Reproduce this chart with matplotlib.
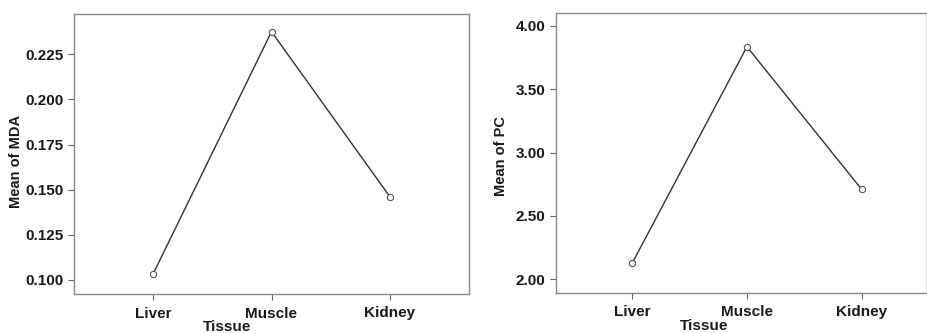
import matplotlib
matplotlib.use("Agg")
import matplotlib.pyplot as plt

plt.rcParams["font.family"] = ["Liberation Sans", "DejaVu Sans"]
plt.rcParams["font.weight"] = "bold"

tissues = ["Liver", "Muscle", "Kidney"]
mda_mean = [0.1032, 0.2375, 0.1460]
pc_mean = [2.126, 3.836, 2.709]

mda_ticks = [0.100, 0.125, 0.150, 0.175, 0.200, 0.225]
pc_ticks = [2.00, 2.50, 3.00, 3.50, 4.00]

W, H = 927, 333
fig = plt.figure(figsize=(W / 100, H / 100), dpi=100)

# axes boxes in pixels: left, top, right, bottom
ax1 = fig.add_axes([74 / W, 1 - 294 / H, (469 - 74) / W, (294 - 14) / H])
ax2 = fig.add_axes([556 / W, 1 - 292.7 / H, (927 - 556) / W, (292.7 - 12.7) / H])

x = list(range(len(tissues)))


def style(ax, y, ticks, fmt, ylim, xlim, ylabel, xlab_x, ylab_x, ylab_y):
    ax.plot(x, y, color="#333333", lw=1.0, marker="o", ms=4.5,
            mfc="white", mec="#555555", mew=0.8)
    ax.set_xlim(*xlim)
    ax.set_ylim(*ylim)
    ax.set_xticks(x)
    ax.set_xticklabels(tissues, fontsize=11, fontweight="bold", color="#1a1a1a")
    ax.set_yticks(ticks)
    ax.set_yticklabels([fmt.format(t) for t in ticks], fontsize=11,
                       fontweight="bold", color="#1a1a1a")
    for s in ax.spines.values():
        s.set_color("#888888")
        s.set_linewidth(1.0)
    ax.tick_params(color="#666666", length=4, width=0.8)
    ax.tick_params(axis="x", pad=5)
    ax.set_xlabel("Tissue", fontsize=11, fontweight="bold", color="#1a1a1a")
    ax.xaxis.set_label_coords(xlab_x, -0.093)
    ax.set_ylabel(ylabel, fontsize=10.5, fontweight="bold", color="#1a1a1a")
    ax.yaxis.set_label_coords(ylab_x, ylab_y)


style(ax1, mda_mean, mda_ticks, "{:.3f}", (0.0922, 0.2473), (-0.667, 2.667),
      "Mean of MDA", 0.387, -0.129, 0.475)
style(ax2, pc_mean, pc_ticks, "{:.2f}", (1.892, 4.105), (-0.665, 2.57),
      "Mean of PC", 0.40, -0.129, 0.49)

fig.savefig("out.png", dpi=100)
